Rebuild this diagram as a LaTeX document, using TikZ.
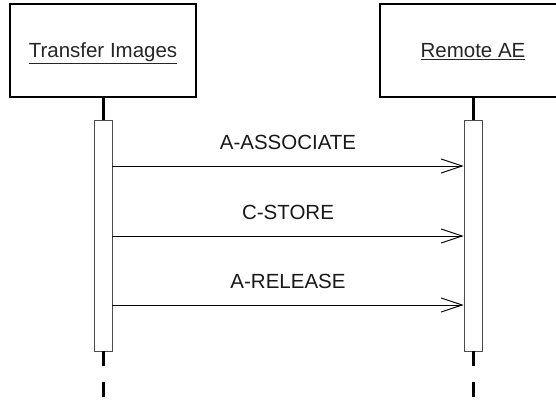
\documentclass[tikz,border=0pt]{standalone}
\usepackage{fontspec}
\setmainfont{Liberation Sans}
\usetikzlibrary{arrows.meta}
\tikzset{
  objbox/.style={draw=black, line width=1.2pt, fill=white, minimum width=186pt, minimum height=93pt, inner sep=0pt},
  objlabel/.style={font=\fontsize{20.5}{23}\selectfont, anchor=base, inner sep=0pt, text=black!85},
  actbar/.style={draw=black!70, line width=0.9pt, fill=white, minimum width=18pt, minimum height=231pt, inner sep=0pt},
  lifeline/.style={line width=3pt, black},
  msg/.style={line width=1pt, -{Straight Barb[length=21pt,width=14pt,line width=0.9pt]}},
  msglabel/.style={font=\fontsize{20.5}{23}\selectfont, anchor=base, inner sep=0pt, yshift=17pt, text=black!90}
}
\begin{document}
\begin{tikzpicture}[x=1pt,y=-1pt]
\useasboundingbox (0,0) rectangle (556,401);
\clip (0,0) rectangle (556,401);
\node[objbox] (objL) at (103,50.5) {};
\node[objbox] (objR) at (473,50.5) {};
\node[objlabel] (txtL) at (103,57.3) {\underline{Transfer Images}};
\node[objlabel] (txtR) at (473,57.3) {\underline{Remote AE}};
\node[actbar] (barL) at (103,235.5) {};
\node[actbar] (barR) at (473,235.5) {};
\draw[lifeline] (objL.south) -- (barL.north);
\draw[lifeline] (objR.south) -- (barR.north);
\coordinate (endL) at (103,399);
\coordinate (endR) at (473,399);
\draw[lifeline, dash pattern=on 15pt off 16pt] (barL.south) -- (endL);
\draw[lifeline, dash pattern=on 15pt off 16pt] (barR.south) -- (endR);
\draw[msg] (barL.east |- {(0,166)}) -- node[msglabel] {A-ASSOCIATE} (barR.west |- {(0,166)});
\draw[msg] (barL.east |- {(0,236)}) -- node[msglabel] {C-STORE} (barR.west |- {(0,236)});
\draw[msg] (barL.east |- {(0,305)}) -- node[msglabel] {A-RELEASE} (barR.west |- {(0,305)});
\end{tikzpicture}
\end{document}
